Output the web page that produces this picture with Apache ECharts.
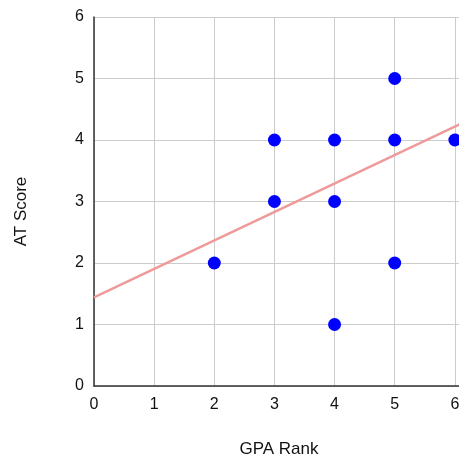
<!DOCTYPE html>
<html>
<head>
<meta charset="utf-8">
<script src="https://cdn.jsdelivr.net/npm/echarts@6/dist/echarts.min.js"></script>
<style>
html,body{margin:0;padding:0;background:#fff;overflow:hidden;}
#chart{width:459px;height:457px;}
</style>
</head>
<body>
<div id="chart"></div>
<script>
// GPA Rank (x) vs AT Score (y)
const gpaRank = [2, 3, 3, 4, 4, 4, 5, 5, 5, 6];
const atScore = [2, 4, 3, 4, 3, 1, 5, 4, 2, 4];
// trendline endpoints
const trendX = [0, 7];
const trendY = [1.44, 4.68];
const xTicks = [0, 1, 2, 3, 4, 5, 6, 7];
const yTicks = [0, 1, 2, 3, 4, 5, 6];

const points = gpaRank.map((x, i) => [x, atScore[i]]);
const trend = trendX.map((x, i) => [x, trendY[i]]);
const font = 'Liberation Sans, Arial, Helvetica, sans-serif';

const chart = echarts.init(document.getElementById('chart'), null, {renderer: 'canvas'});
chart.setOption({
  animation: false,
  backgroundColor: '#fff',
  grid: {left: 94, top: 17, width: 421, height: 369, containLabel: false, outerBoundsMode: 'none'},
  xAxis: {
    type: 'value', min: xTicks[0], max: xTicks[xTicks.length - 1], interval: 1,
    name: 'GPA Rank', nameLocation: 'middle', nameGap: 55,
    nameTextStyle: {fontFamily: font, fontSize: 17, color: '#111', padding: [0, 51, 0, 0]},
    axisLine: {show: true, onZero: false, lineStyle: {color: '#333', width: 1.5}},
    axisTick: {show: false},
    axisLabel: {fontFamily: font, fontSize: 16, color: '#111', margin: 11},
    splitLine: {show: true, lineStyle: {color: '#cccccc', width: 1}}
  },
  yAxis: {
    type: 'value', min: yTicks[0], max: yTicks[yTicks.length - 1], interval: 1,
    name: 'AT Score', nameLocation: 'middle', nameGap: 64,
    nameTextStyle: {fontFamily: font, fontSize: 17, color: '#111', padding: [0, 20, 0, 0]},
    axisLine: {show: true, onZero: false, lineStyle: {color: '#333', width: 1.5}},
    axisTick: {show: false},
    axisLabel: {fontFamily: font, fontSize: 16, color: '#111', margin: 10},
    splitLine: {show: true, lineStyle: {color: '#cccccc', width: 1}}
  },
  series: [
    {
      type: 'line', data: trend, symbol: 'none', silent: true,
      lineStyle: {color: '#ef9a9a', width: 2.5}, z: 2
    },
    {
      type: 'scatter', data: points, symbol: 'circle', symbolSize: 13,
      itemStyle: {color: '#0000ff', opacity: 1}, z: 3
    }
  ]
});
</script>
</body>
</html>
